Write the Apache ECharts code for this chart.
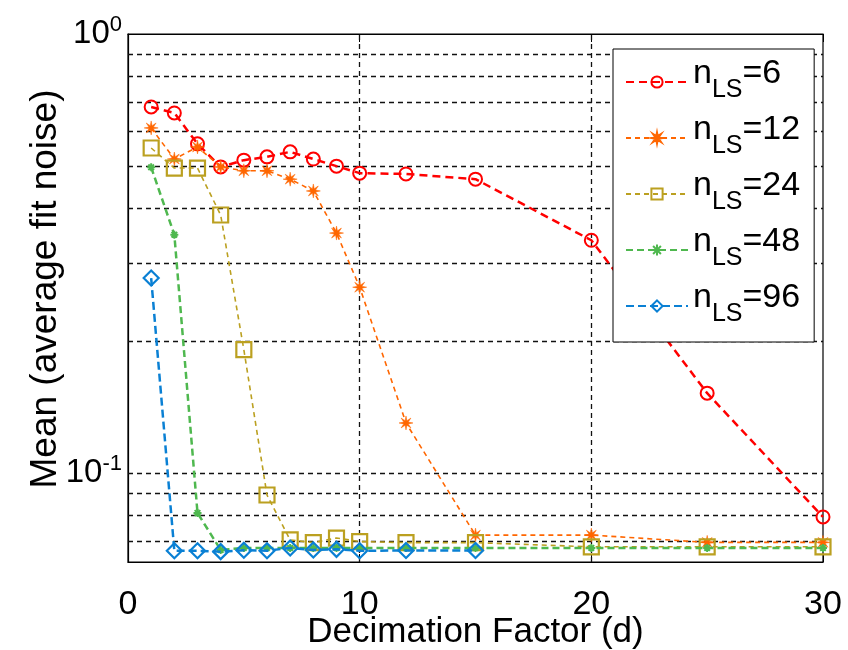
<!DOCTYPE html>
<html>
<head>
<meta charset="utf-8">
<script src="https://cdn.jsdelivr.net/npm/echarts@6/dist/echarts.min.js"></script>
<style>
html,body{margin:0;padding:0;background:#fff;}
#chart{width:848px;height:650px;}
</style>
</head>
<body>
<div id="chart"></div>
<script>
// Decimation factors (x values)
const dValues = [1, 2, 3, 4, 5, 6, 7, 8, 9, 10, 12, 15, 20, 25, 30];
const dValues96 = [1, 2, 3, 4, 5, 6, 7, 8, 9, 10, 12, 15];
// Mean (average fit noise) per series
const nLS6  = [0.682, 0.661, 0.562, 0.498, 0.516, 0.525, 0.539, 0.519, 0.500, 0.482, 0.480, 0.467, 0.339, 0.152, 0.0794];
const nLS12 = [0.611, 0.519, 0.553, 0.498, 0.488, 0.488, 0.467, 0.439, 0.352, 0.265, 0.130, 0.0722, 0.0722, 0.0695, 0.0695];
const nLS24 = [0.550, 0.495, 0.495, 0.387, 0.191, 0.0891, 0.0704, 0.0694, 0.0711, 0.0698, 0.0694, 0.0694, 0.0679, 0.0679, 0.0679];
const nLS48 = [0.497, 0.349, 0.0811, 0.0668, 0.0675, 0.0675, 0.0675, 0.0675, 0.0675, 0.0675, 0.0675, 0.0675, 0.0675, 0.0675, 0.0675];
const nLS96 = [0.278, 0.0665, 0.0665, 0.0662, 0.0667, 0.0665, 0.0675, 0.0668, 0.0670, 0.0665, 0.0666, 0.0666];
// Legend labels
const seriesNames = ['6', '12', '24', '48', '96'];
// Axis ticks / grid values
const xTicks = [0, 10, 20, 30];
const xGridValues = [10, 20];
const yGridValues = [0.07, 0.08, 0.09, 0.1, 0.2, 0.3, 0.4, 0.5, 0.6, 0.7, 0.8, 0.9];
const yMin = 0.0627, yMax = 1;

const FONT = '"Liberation Sans", Arial, sans-serif';
const colors = ['#ff0000', '#ff6600', '#bba020', '#4fb84f', '#0a80d4'];
const asterisk = 'path://M10 0V20M0 10H20M3 3L17 17M3 17L17 3';
const star8 = 'path://M20 10L13.23 11.34L17.07 17.07L11.34 13.23L10 20L8.66 13.23L2.93 17.07L6.77 11.34L0 10L6.77 8.66L2.93 2.93L8.66 6.77L10 0L11.34 6.77L17.07 2.93L13.23 8.66Z';

function pairs(xs, ys) { return xs.map((x, i) => [x, ys[i]]); }

const chart = echarts.init(document.getElementById('chart'), null, {renderer: 'canvas'});

const mk = (idx, xs, ys, symbol, size, lw, dash, bw, fill) => ({
  name: seriesNames[idx],
  type: 'line',
  data: pairs(xs, ys),
  symbol: symbol,
  symbolSize: size,
  showAllSymbol: true,
  z: 3 + idx,
  color: colors[idx],
  lineStyle: {color: colors[idx], width: lw, type: dash},
  itemStyle: {color: fill ? colors[idx] : 'none', borderColor: colors[idx], borderWidth: bw},
  emphasis: {disabled: true},
  animation: false
});

const option = {
  animation: false,
  backgroundColor: '#fff',
  grid: {left: 128, right: 25, top: 34, bottom: 88, containLabel: false, outerBoundsMode: 'none',
         show: true, borderColor: '#000', borderWidth: 1.2, backgroundColor: 'transparent'},
  xAxis: [{
    type: 'value', min: 0, max: 30, interval: 10,
    axisLine: {show: true, lineStyle: {color: '#000', width: 1.2}},
    axisTick: {show: true, inside: true, length: 8, lineStyle: {color: '#000'}},
    axisLabel: {color: '#000', fontSize: 34, fontFamily: FONT, margin: 26},
    splitLine: {show: false},
    name: 'Decimation Factor (d)', nameLocation: 'middle', nameGap: 53, nameMoveOverlap: false,
    nameTextStyle: {color: '#000', fontSize: 35, fontFamily: FONT}
  }, {
    type: 'value', min: 0, max: 30, interval: 10, position: 'top',
    axisLine: {show: true, lineStyle: {color: '#000', width: 1.2}},
    axisTick: {show: true, inside: true, length: 8, lineStyle: {color: '#000'}},
    axisLabel: {show: false}, splitLine: {show: false}
  }],
  yAxis: {
    type: 'log', logBase: 10, min: yMin, max: yMax,
    axisLine: {show: true, lineStyle: {color: '#000', width: 1.2}},
    axisTick: {show: false},
    splitLine: {show: false},
    axisLabel: {
      color: '#000', fontFamily: FONT, margin: 6,
      showMinLabel: false,
      formatter: function (v) {
        if (Math.abs(v - 1) < 1e-6) return '{b|10}{s|0}';
        if (Math.abs(v - 0.1) < 1e-6) return '{b|10}{s|-1}';
        return '';
      },
      rich: {
        b: {fontSize: 33, fontFamily: FONT, color: '#000'},
        s: {fontSize: 22, fontFamily: FONT, color: '#000', padding: [0, 0, 18, 0]}
      }
    },
    name: 'Mean (average fit noise)', nameLocation: 'middle', nameGap: 64, nameMoveOverlap: false,
    nameTextStyle: {color: '#000', fontSize: 37, fontFamily: FONT, padding: [0, 0, 0, 18]}
  },
  legend: {
    data: seriesNames,
    orient: 'vertical', left: 613, top: 49,
    padding: [8, 14, 11, 12],
    itemGap: 6, itemWidth: 62, itemHeight: 14,
    backgroundColor: '#fff', borderColor: '#000', borderWidth: 1, borderRadius: 0,
    selectedMode: false,
    formatter: function (name) { return '{n|n}{sub|LS}{n|=' + name + '}'; },
    textStyle: {
      color: '#000', fontFamily: FONT,
      rich: {
        n: {fontSize: 34, fontFamily: FONT, color: '#000', lineHeight: 36, padding: [0, 0, 16, 0]},
        sub: {fontSize: 25, fontFamily: FONT, color: '#000', lineHeight: 36, padding: [16, 0, 0, 0]}
      }
    }
  },
  series: [
    {
      name: 'grid', type: 'line', data: [], z: 1, silent: true,
      markLine: {
        silent: true, symbol: 'none', z: 1, animation: false,
        label: {show: false},
        lineStyle: {color: '#111', type: [5, 4], width: 1.3},
        emphasis: {disabled: true},
        data: yGridValues.map(v => ({yAxis: v})).concat(xGridValues.map(v => ({xAxis: v})))
      }
    },
    mk(0, dValues, nLS6, 'circle', 13, 2.5, [8, 5], 2, false),
    mk(1, dValues, nLS12, star8, 14, 1.6, [5, 4], 0.5, true),
    mk(2, dValues, nLS24, 'rect', 15, 1.6, [5, 4], 2.2, false),
    mk(3, dValues, nLS48, asterisk, 8, 2.5, [7, 4], 2, false),
    mk(4, dValues96, nLS96, 'diamond', 15, 2.5, [8, 4], 2.2, false)
  ]
};
chart.setOption(option);
</script>
</body>
</html>
